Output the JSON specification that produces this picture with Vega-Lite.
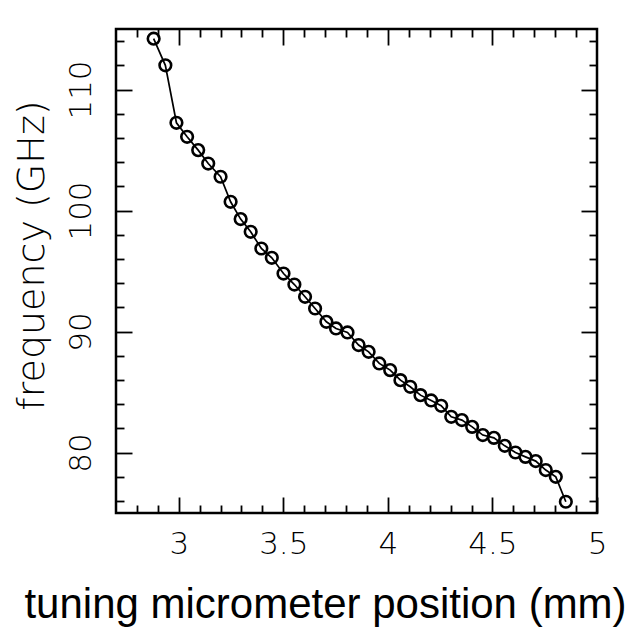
{
  "$schema": "https://vega.github.io/schema/vega-lite/v6.json",
  "width": 481,
  "height": 484,
  "autosize": {"type": "none"},
  "padding": {"left": 116, "top": 29, "right": 40, "bottom": 120},
  "background": "white",
  "config": {
    "view": {"stroke": "black", "strokeWidth": 2.5},
    "axis": {"grid": false, "domain": false, "tickColor": "black", "labelColor": "black", "titleColor": "black", "tickWidth": 1.8}
  },
  "data": {"values": [
    {"pos": 2.880, "freq": 114.2},
    {"pos": 2.936, "freq": 112.0},
    {"pos": 2.989, "freq": 107.25},
    {"pos": 3.040, "freq": 106.09},
    {"pos": 3.093, "freq": 104.99},
    {"pos": 3.141, "freq": 103.88},
    {"pos": 3.200, "freq": 102.79},
    {"pos": 3.248, "freq": 100.72},
    {"pos": 3.296, "freq": 99.29},
    {"pos": 3.344, "freq": 98.24},
    {"pos": 3.395, "freq": 96.86},
    {"pos": 3.445, "freq": 96.09},
    {"pos": 3.501, "freq": 94.79},
    {"pos": 3.553, "freq": 93.88},
    {"pos": 3.604, "freq": 92.87},
    {"pos": 3.652, "freq": 91.90},
    {"pos": 3.706, "freq": 90.80},
    {"pos": 3.752, "freq": 90.25},
    {"pos": 3.807, "freq": 89.92},
    {"pos": 3.860, "freq": 88.88},
    {"pos": 3.908, "freq": 88.32},
    {"pos": 3.959, "freq": 87.36},
    {"pos": 4.011, "freq": 86.81},
    {"pos": 4.060, "freq": 85.98},
    {"pos": 4.107, "freq": 85.43},
    {"pos": 4.156, "freq": 84.74},
    {"pos": 4.207, "freq": 84.30},
    {"pos": 4.255, "freq": 83.86},
    {"pos": 4.303, "freq": 82.95},
    {"pos": 4.354, "freq": 82.68},
    {"pos": 4.403, "freq": 82.12},
    {"pos": 4.454, "freq": 81.44},
    {"pos": 4.507, "freq": 81.21},
    {"pos": 4.559, "freq": 80.55},
    {"pos": 4.610, "freq": 80.0},
    {"pos": 4.658, "freq": 79.64},
    {"pos": 4.707, "freq": 79.29},
    {"pos": 4.755, "freq": 78.55},
    {"pos": 4.803, "freq": 77.99},
    {"pos": 4.851, "freq": 75.93}
  ]},
  "layer": [
    {
      "mark": {"type": "line", "color": "black", "strokeWidth": 1.7},
      "encoding": {
        "x": {"field": "pos", "type": "quantitative", "scale": {"domain": [2.7, 5], "nice": false, "zero": false},
          "axis": {"orient": "bottom", "values": [3, 3.5, 4, 4.5, 5], "format": "~g", "tickSize": -16, "labelPadding": 32, "labelFont": "DejaVu Sans", "labelFontWeight": 300, "labelFontSize": 31, "labelFlush": false, "labelOverlap": false,
            "title": "tuning micrometer position (mm)", "titleFont": "Liberation Sans", "titleFontSize": 42, "titleFontWeight": "normal", "titlePadding": 25, "titleX": 209}},
        "y": {"field": "freq", "type": "quantitative", "scale": {"domain": [75, 115], "nice": false, "zero": false},
          "axis": {"orient": "left", "values": [80, 90, 100, 110], "tickSize": -16, "labelPadding": 35, "labelAngle": -90, "labelAlign": "center", "labelBaseline": "bottom", "labelFont": "DejaVu Sans", "labelFontWeight": 300, "labelFontSize": 31, "labelFlush": false, "labelOverlap": false,
            "title": "frequency (GHz)", "titleFont": "DejaVu Sans", "titleFontWeight": 300, "titleFontSize": 38, "titlePadding": 14, "titleY": 226}}
      }
    },
    {
      "mark": {"type": "point", "shape": "circle", "filled": false, "color": "black", "strokeWidth": 2.6, "size": 135, "opacity": 1},
      "encoding": {
        "x": {"field": "pos", "type": "quantitative", "axis": {"orient": "bottom", "values": [2.8, 2.9, 3.1, 3.2, 3.3, 3.4, 3.6, 3.7, 3.8, 3.9, 4.1, 4.2, 4.3, 4.4, 4.6, 4.7, 4.8, 4.9], "tickSize": -8, "labels": false, "title": null}},
        "y": {"field": "freq", "type": "quantitative", "axis": {"orient": "left", "values": [76, 78, 82, 84, 86, 88, 92, 94, 96, 98, 102, 104, 106, 108, 112, 114], "tickSize": -8, "labels": false, "title": null}}
      }
    },
    {
      "mark": {"type": "point", "opacity": 0},
      "encoding": {
        "x": {"field": "pos", "type": "quantitative", "axis": {"orient": "top", "values": [3, 3.5, 4, 4.5], "tickSize": -16, "labels": false, "title": null}},
        "y": {"field": "freq", "type": "quantitative", "axis": {"orient": "right", "values": [80, 90, 100, 110], "tickSize": -16, "labels": false, "title": null}}
      }
    },
    {
      "mark": {"type": "point", "opacity": 0},
      "encoding": {
        "x": {"field": "pos", "type": "quantitative", "axis": {"orient": "top", "values": [2.8, 2.9, 3.1, 3.2, 3.3, 3.4, 3.6, 3.7, 3.8, 3.9, 4.1, 4.2, 4.3, 4.4, 4.6, 4.7, 4.8, 4.9], "tickSize": -8, "labels": false, "title": null}},
        "y": {"field": "freq", "type": "quantitative", "axis": {"orient": "right", "values": [76, 78, 82, 84, 86, 88, 92, 94, 96, 98, 102, 104, 106, 108, 112, 114], "tickSize": -8, "labels": false, "title": null}}
      }
    }
  ],
  "resolve": {"axis": {"x": "independent", "y": "independent"}}
}
